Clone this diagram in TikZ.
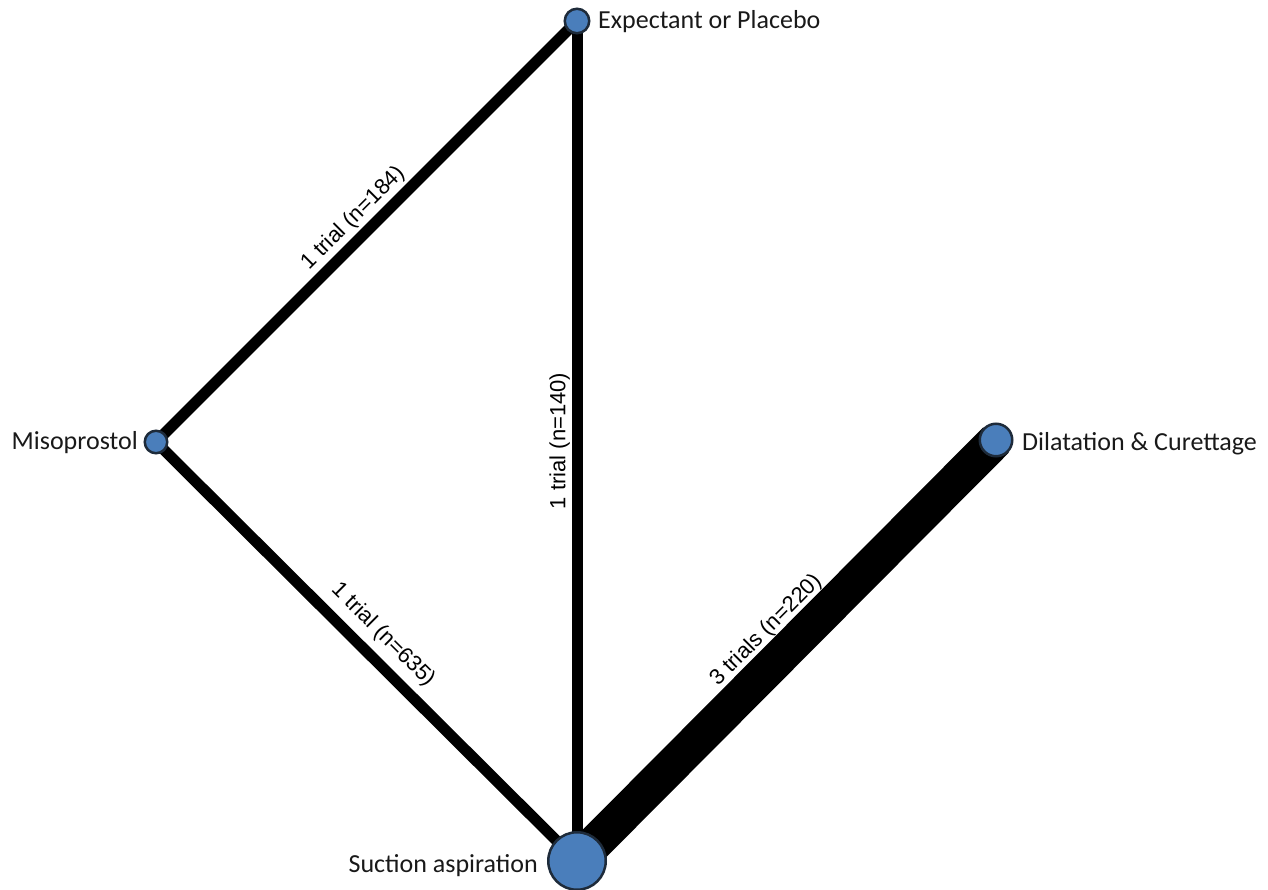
\documentclass[tikz,border=0pt]{standalone}
\usepackage{fontspec}
\setmainfont{Carlito}
\newfontfamily\edgefont{Liberation Sans}
\usetikzlibrary{backgrounds}
\definecolor{nodeblue}{HTML}{4A7EBB}
\definecolor{noderim}{HTML}{1E2B3A}

\begin{document}
\begin{tikzpicture}[x=1pt, y=-1pt,
  trt/.style={circle, fill=nodeblue, draw=noderim, line width=2.5pt, inner sep=0pt},
  link/.style={line width=11pt, black},
  heavylink/.style={line width=36pt, black},
  tname/.style={font=\fontsize{26}{30}\selectfont, inner sep=0pt, text=black!90},
  elabel/.style={font=\edgefont\fontsize{22}{24}\selectfont, inner sep=0pt, outer sep=0pt,
                 sloped, midway, text=black}]

\useasboundingbox (0,0) rectangle (1268,890);

% treatments
\node[trt, minimum size=24.5pt] (E) at (577,21) {};
\node[trt, minimum size=22.5pt] (M) at (156,442) {};
\node[trt, minimum size=32.5pt] (D) at (996,440) {};
\node[trt, minimum size=57.5pt] (S) at (577,861) {};

% treatment names
\node[tname, anchor=base west] (Et) at (598,29) {Expectant or Placebo};
\node[tname, anchor=base east] (Mt) at (138,449) {Misoprostol};
\node[tname, anchor=base west] (Dt) at (1022,450) {Dilatation \& Curettage};
\node[tname, anchor=base east] (St) at (538,872) {Suction aspiration};

% comparisons, drawn beneath the circles
\begin{pgfonlayer}{background}
  \draw[link] (M.center) -- (E.center)
    node[elabel, above=8pt] (lME) {1 trial (n=184)};
  \draw[link] (S.center) -- (E.center)
    node[elabel, above=7pt] (lSE) {1 trial (n=140)};
  \draw[link] (M.center) -- (S.center)
    node[elabel, above=13pt] (lMS) {1 trial (n=635)};
  \draw[heavylink] (S.center) -- (D.center)
    node[elabel, above=18pt] (lSD) {3 trials (n=220)};
\end{pgfonlayer}
\end{tikzpicture}
\end{document}
